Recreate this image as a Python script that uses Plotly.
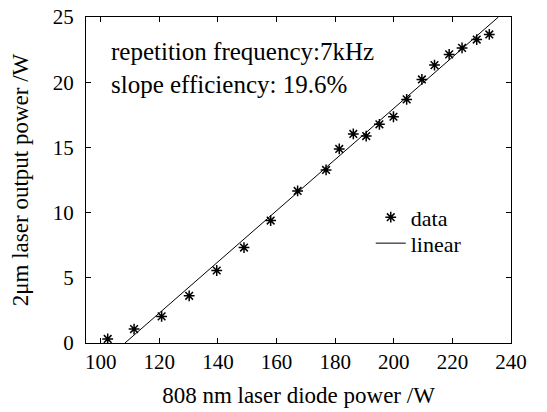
import plotly.graph_objects as go

# Measured data (808 nm diode power vs 2 µm output power)
pump_power = [102.4, 111.4, 120.8, 130.2, 139.6, 148.9, 158.0, 167.2, 176.9, 181.4,
              186.2, 190.6, 195.1, 199.9, 204.4, 209.6, 213.9, 218.9, 223.3, 228.3, 232.6]
output_power = [0.31, 1.07, 2.04, 3.62, 5.56, 7.32, 9.39, 11.66, 13.27, 14.88,
                 16.03, 15.87, 16.77, 17.35, 18.68, 20.21, 21.31, 22.13, 22.63, 23.27, 23.66]

# Linear fit endpoints (slope ~19.6%)
fit_x = [108.3, 235.7]
fit_y = [0.0, 25.0]

x_ticks = [100, 120, 140, 160, 180, 200, 220, 240]
y_ticks = [0, 5, 10, 15, 20, 25]

FONT = "Liberation Serif"

fig = go.Figure()
fig.add_trace(go.Scatter(
    x=pump_power, y=output_power, mode="markers", name="data",
    marker=dict(symbol="asterisk-open", size=9, color="black",
                line=dict(color="black", width=1.5)),
    legend="legend",
))
fig.add_trace(go.Scatter(
    x=fit_x, y=fit_y, mode="lines", name="linear",
    line=dict(color="black", width=1),
    legend="legend2",
))

axis_common = dict(
    showline=True, linecolor="black", linewidth=1, mirror="allticks",
    ticks="inside", ticklen=5, tickcolor="black", tickwidth=1,
    showgrid=False, zeroline=False, automargin=False,
    tickfont=dict(family=FONT, size=21, color="black"),
)

fig.update_xaxes(range=[95, 240], tickvals=x_ticks,
                 title=dict(text="808 nm laser diode power /W",
                            font=dict(family=FONT, size=23, color="black"),
                            standoff=13),
                 **axis_common)
fig.update_yaxes(range=[0, 25], tickvals=y_ticks, ticklabelstandoff=7,
                 title=dict(text="2μm laser output power /W",
                            font=dict(family=FONT, size=23, color="black"),
                            standoff=17),
                 **axis_common)

fig.add_annotation(xref="paper", yref="paper", x=0.055, y=0.845,
                   xanchor="left", yanchor="middle", align="left", showarrow=False,
                   text="repetition frequency:7kHz<br>slope efficiency: 19.6%",
                   font=dict(family=FONT, size=25, color="black"))

leg_common = dict(xanchor="left", yanchor="middle", bgcolor="rgba(0,0,0,0)",
                  borderwidth=0, itemwidth=30,
                  font=dict(family=FONT, size=22, color="black"))

fig.update_layout(
    width=547, height=412,
    margin=dict(l=86, r=36, t=17, b=69),
    paper_bgcolor="white", plot_bgcolor="white",
    showlegend=True,
    legend=dict(x=0.67, y=(343.3 - 217.5) / 326.5, **leg_common),
    legend2=dict(x=0.67, y=(343.3 - 243.5) / 326.5, **leg_common),
)

fig.write_html("out.html", config={"displayModeBar": False},
               post_script="document.body.style.margin='0';")
